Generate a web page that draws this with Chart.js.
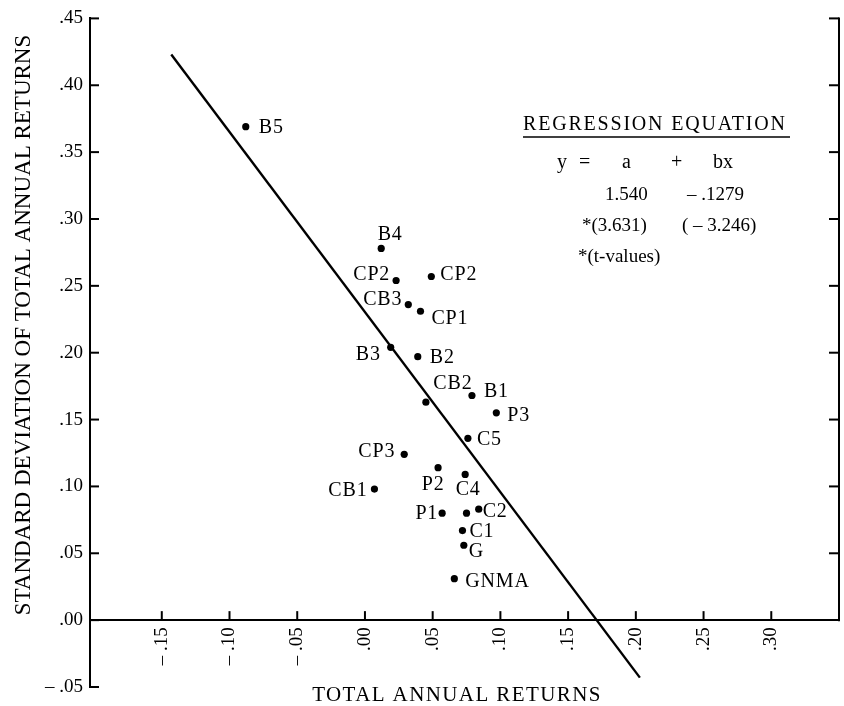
<!DOCTYPE html>
<html><head><meta charset="utf-8">
<script src="https://cdn.jsdelivr.net/npm/chart.js@4/dist/chart.umd.min.js"></script>
<style>html,body{margin:0;padding:0;background:#fff}#wrap{width:844px;height:706px}</style>
</head><body><div id="wrap"><canvas id="c" width="844" height="706"></canvas></div>
<script>
// ---- data ----
const pointNames = ['B5','B4','CP2','CP2','CB3','CP1','B3','B2','CB2','B1','P3','C5','CP3','P2','C4','CB1','P1','','C2','C1','G','GNMA'];
const totalReturns = [-0.088,0.012,0.023,0.049,0.032,0.041,0.019,0.039,0.045,0.079,0.097,0.076,0.029,0.054,0.074,0.007,0.057,0.075,0.084,0.072,0.073,0.066];
const stdDeviation = [0.369,0.278,0.254,0.257,0.236,0.231,0.204,0.197,0.163,0.168,0.155,0.136,0.124,0.114,0.109,0.098,0.080,0.080,0.083,0.067,0.056,0.031];
const regressionX = [-0.143, 0.203];
const regressionY = [0.423, -0.043];
const xTickValues = [-0.15,-0.10,-0.05,0,0.05,0.10,0.15,0.20,0.25,0.30];
const yTickValues = [0.45,0.40,0.35,0.30,0.25,0.20,0.15,0.10,0.05,0,-0.05];
const xTitle = 'TOTAL ANNUAL RETURNS';
const yTitle = 'STANDARD DEVIATION OF TOTAL ANNUAL RETURNS';
const eqTitle = 'REGRESSION EQUATION';

// ---- label placement (style) ----
// [dx, dy, align]
const labelPlacement = [
  [13,0,'left'],[9,-15,'center'],[-6,-7,'right'],[9,-3,'left'],[-6,-6,'right'],[11,6,'left'],
  [-10,6,'right'],[12,0,'left'],[27,-20,'center'],[12,-5,'left'],[11,2,'left'],[9,0,'left'],
  [-9,-4,'right'],[-5,16,'center'],[3,14,'center'],[-7,0,'right'],[-4,-1,'right'],[0,0,'left'],
  [4,1,'left'],[7,0,'left'],[5,5,'left'],[11,2,'left']
];

const SERIF = '"Liberation Serif", "Times New Roman", serif';
function fmt(v){
  const s = Math.abs(v).toFixed(2).slice(1);
  return v < -1e-9 ? '\u2013 ' + s : s;
}

const decor = {
  id: 'decor',
  afterDraw(chart){
    const {ctx, chartArea: a, scales: {x, y}} = chart;
    ctx.save();
    ctx.strokeStyle = '#000'; ctx.fillStyle = '#000'; ctx.lineWidth = 2;
    const line = (x1,y1,x2,y2)=>{ctx.beginPath();ctx.moveTo(x1,y1);ctx.lineTo(x2,y2);ctx.stroke();};
    const y0 = y.getPixelForValue(0);
    yTickValues.forEach(v=>{ const py=y.getPixelForValue(v); line(a.left, py, a.left+9, py); });
    xTickValues.forEach(v=>{ const px=x.getPixelForValue(v); line(px, y0, px, y0-9); });
    // right axis
    line(a.right, y.getPixelForValue(0.45)-1, a.right, y0+1);
    yTickValues.filter(v=>v>0).forEach(v=>{ const py=y.getPixelForValue(v); line(a.right-10, py, a.right, py); });
    // point labels
    ctx.font = '20px ' + SERIF;
    ctx.letterSpacing = '0.8px';
    ctx.textBaseline = 'alphabetic';
    pointNames.forEach((n,i)=>{
      if(!n) return;
      const p = labelPlacement[i];
      ctx.textAlign = p[2];
      ctx.fillText(n, x.getPixelForValue(totalReturns[i]) + p[0], y.getPixelForValue(stdDeviation[i]) + p[1] + 6.5);
    });
    // axis titles
    ctx.textAlign = 'center';
    ctx.font = '21px ' + SERIF; ctx.letterSpacing = '1.4px';
    ctx.fillText(xTitle, 457, 701);
    ctx.save();
    ctx.translate(30, 325); ctx.rotate(-Math.PI/2);
    ctx.font = '23px ' + SERIF; ctx.letterSpacing = '0px';
    ctx.fillText(yTitle, 0, 0);
    ctx.restore();
    // regression equation block
    ctx.textAlign = 'left';
    ctx.font = '20px ' + SERIF; ctx.letterSpacing = '1.8px';
    ctx.fillText(eqTitle, 523, 130);
    ctx.lineWidth = 1.5; line(523, 137, 790, 137);
    ctx.letterSpacing = '0px';
    ctx.font = '20px ' + SERIF;
    ctx.fillText('y', 557, 168); ctx.fillText('=', 579, 168); ctx.fillText('a', 622, 168);
    ctx.fillText('+', 671, 168); ctx.fillText('bx', 713, 168);
    ctx.font = '19px ' + SERIF;
    ctx.fillText('1.540', 605, 200); ctx.fillText('\u2013 .1279', 687, 200);
    ctx.fillText('*(3.631)', 582, 231); ctx.fillText('( \u2013 3.246)', 682, 231);
    ctx.fillText('*(t-values)', 578, 262);
    ctx.restore();
  }
};

new Chart(document.getElementById('c'), {
  type: 'scatter',
  data: {
    datasets: [
      { data: totalReturns.map((v,i)=>({x:v, y:stdDeviation[i]})), backgroundColor:'#000', borderWidth:0, pointRadius:3.6 },
      { data: regressionX.map((v,i)=>({x:v, y:regressionY[i]})), showLine:true, borderColor:'#000', borderWidth:2.4, pointRadius:0 }
    ]
  },
  plugins: [decor],
  options: {
    responsive:false, animation:false, devicePixelRatio:1, events:[],
    layout:{ padding:{ top:18, right:5, bottom:19, left:0 } },
    plugins:{ legend:{display:false}, tooltip:{enabled:false} },
    scales:{
      x:{ type:'linear', position:{y:0}, min:-0.203, max:0.35,
          afterBuildTicks:s=>{ s.ticks = xTickValues.map(v=>({value:v})); },
          afterFit:s=>{ s.height = 0; },
          grid:{ drawOnChartArea:false, drawTicks:true, tickLength:4, tickColor:'rgba(0,0,0,0)' },
          border:{ display:true, color:'#000', width:2 },
          ticks:{ color:'#000', font:{ family:SERIF, size:19 }, minRotation:90, maxRotation:90, autoSkip:false, callback:v=>fmt(v) } },
      y:{ type:'linear', position:'left', min:-0.05, max:0.45,
          afterBuildTicks:s=>{ s.ticks = yTickValues.map(v=>({value:v})); },
          afterFit:s=>{ s.width = 90; },
          grid:{ drawOnChartArea:false, drawTicks:false },
          border:{ display:true, color:'#000', width:2 },
          ticks:{ color:'#000', font:{ family:SERIF, size:19 }, padding:7, autoSkip:false, callback:v=>fmt(v) } }
    }
  }
});
</script></body></html>
